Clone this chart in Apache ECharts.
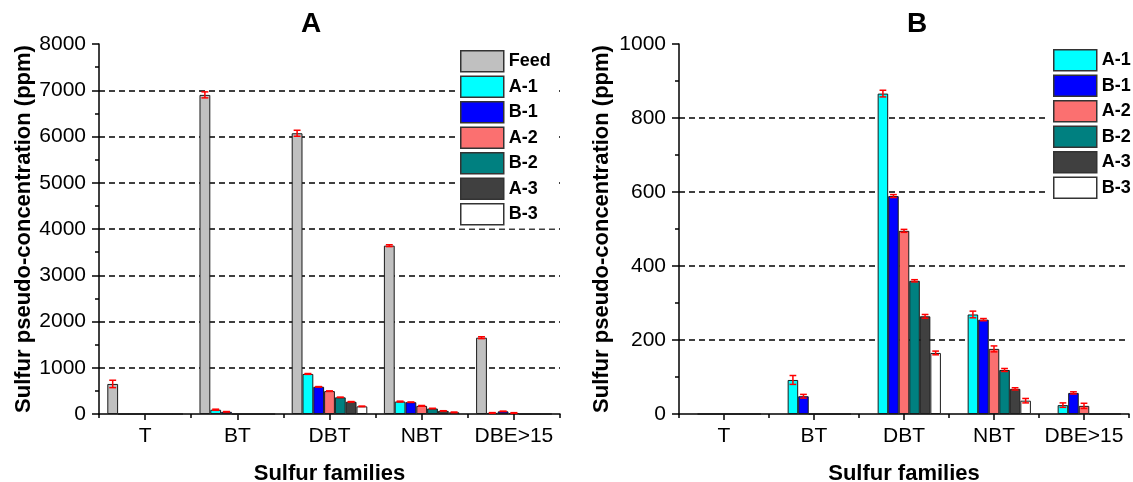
<!DOCTYPE html>
<html>
<head>
<meta charset="utf-8">
<script src="https://cdn.jsdelivr.net/npm/echarts@6/dist/echarts.min.js"></script>
<style>
  html, body { margin: 0; padding: 0; background: #fff; }
  #chart { width: 1133px; height: 482px; }
</style>
</head>
<body>
<div id="chart"></div>
<script>
// Sulfur families on the x axis
const families = ['T', 'BT', 'DBT', 'NBT', 'DBE>15'];

// Pseudo-concentrations (ppm) and their standard deviations
const feed    = [650, 6900, 6070, 3640, 1650];
const feedErr = [80, 65, 65, 20, 20];
const a1      = [0, 92, 866, 269, 24];
const a1Err   = [0, 12, 9, 9, 6];
const b1      = [0, 48, 589, 255, 57];
const b1Err   = [0, 5, 4, 3, 3];
const a2      = [0, 0, 495, 176, 22];
const a2Err   = [0, 0, 4, 8, 7];
const b2      = [0, 0, 360, 119, 0];
const b2Err   = [0, 0, 3, 4, 0];
const a3      = [0, 0, 264, 68, 0];
const a3Err   = [0, 0, 5, 3, 0];
const b3      = [0, 0, 165, 36, 0];
const b3Err   = [0, 0, 5, 6, 0];

// Axis ticks
const yTicksA = [0, 1000, 2000, 3000, 4000, 5000, 6000, 7000, 8000];
const yTicksB = [0, 200, 400, 600, 800, 1000];

const samples = [
  { name: 'Feed', values: feed, err: feedErr, color: '#c0c0c0' },
  { name: 'A-1',  values: a1,   err: a1Err,   color: '#00ffff' },
  { name: 'B-1',  values: b1,   err: b1Err,   color: '#0000ff' },
  { name: 'A-2',  values: a2,   err: a2Err,   color: '#fb7070' },
  { name: 'B-2',  values: b2,   err: b2Err,   color: '#008080' },
  { name: 'A-3',  values: a3,   err: a3Err,   color: '#404040' },
  { name: 'B-3',  values: b3,   err: b3Err,   color: '#ffffff' }
];

const FONT = 'Liberation Sans, Arial, sans-serif';
const GAP = 0.18;
const slots = samples.length;

const chart = echarts.init(document.getElementById('chart'), null, { renderer: 'canvas' });

function valueAxis(gridIndex, ticks, nameGap) {
  return {
    type: 'value', gridIndex,
    min: ticks[0], max: ticks[ticks.length - 1], interval: ticks[1] - ticks[0],
    name: 'Sulfur pseudo-concentration (ppm)',
    nameLocation: 'middle', nameGap,
    nameTextStyle: { fontFamily: FONT, fontWeight: 'bold', fontSize: 22, color: '#000' },
    axisLine: { show: true, lineStyle: { color: '#000', width: 1.5 } },
    axisTick: { show: true, length: 7, lineStyle: { color: '#000', width: 1.5 } },
    minorTick: { show: true, splitNumber: 2, length: 4, lineStyle: { color: '#000', width: 1.5 } },
    axisLabel: { fontFamily: FONT, fontSize: 21, color: '#000', margin: 13,
                 formatter: function (v) { return String(v); } },
    splitLine: { show: true, showMinLine: false, showMaxLine: false,
                 lineStyle: { color: '#000', type: [6, 4], width: 1.5 } }
  };
}

function categoryAxis(gridIndex) {
  return {
    type: 'category', gridIndex, data: families,
    name: 'Sulfur families', nameLocation: 'middle', nameGap: 49,
    nameTextStyle: { fontFamily: FONT, fontWeight: 'bold', fontSize: 22, color: '#000' },
    axisLine: { show: true, lineStyle: { color: '#000', width: 1.5 } },
    axisTick: { show: true, alignWithLabel: true, interval: 0, length: 6, lineStyle: { color: '#000', width: 1.5 } },
    axisLabel: { fontFamily: FONT, fontSize: 21, color: '#000', margin: 12, interval: 0, hideOverlap: false },
    splitLine: { show: false }
  };
}

// Boundary ticks between families, drawn by an overlaid axis without labels
function boundaryAxis(gridIndex) {
  return {
    type: 'category', gridIndex, data: families,
    axisLine: { show: false },
    axisTick: { show: true, alignWithLabel: false, interval: 0, length: 4, lineStyle: { color: '#000', width: 1.5 } },
    axisLabel: { show: false },
    splitLine: { show: false }
  };
}

function hiddenValueAxis(gridIndex, ticks) {
  return { type: 'value', gridIndex, min: ticks[0], max: ticks[ticks.length - 1],
           show: false, splitLine: { show: false } };
}

function errorRenderer(slot) {
  return function (params, api) {
    const v = api.value(1), e = api.value(2);
    if (!v || !e) return;
    const band = api.size([1, 0])[0];
    const groupW = band * (1 - GAP);
    const bw = groupW / slots;
    const cx = api.coord([api.value(0), 0])[0] - groupW / 2 + bw * (slot + 0.5);
    const yHi = api.coord([api.value(0), v + e])[1];
    const yLo = api.coord([api.value(0), v - e])[1];
    const half = bw * 0.32;
    const style = { stroke: '#ff0000', lineWidth: 1.5 };
    return {
      type: 'group',
      children: [
        { type: 'line', shape: { x1: cx, y1: yHi, x2: cx, y2: yLo }, style },
        { type: 'line', shape: { x1: cx - half, y1: yHi, x2: cx + half, y2: yHi }, style },
        { type: 'line', shape: { x1: cx - half, y1: yLo, x2: cx + half, y2: yLo }, style }
      ]
    };
  };
}

const series = [];
[0, 1].forEach(function (panel) {
  samples.forEach(function (s, slot) {
    const skip = panel === 1 && s.name === 'Feed';
    series.push({
      type: 'bar', name: s.name,
      xAxisIndex: panel, yAxisIndex: panel,
      data: skip ? families.map(function () { return '-'; }) : s.values,
      barGap: '0%', barCategoryGap: (GAP * 100) + '%',
      itemStyle: { color: s.color, borderColor: '#1a1a1a', borderWidth: 1 },
      emphasis: { disabled: true },
      z: 2
    });
    if (!skip) {
      series.push({
        type: 'custom', name: s.name + ' error',
        xAxisIndex: panel, yAxisIndex: panel,
        renderItem: errorRenderer(slot),
        data: families.map(function (f, i) { return [i, s.values[i], s.err[i]]; }),
        z: 5, silent: true
      });
    }
  });
});

const legendBase = {
  orient: 'vertical', itemWidth: 43, itemHeight: 21, itemGap: 3,
  padding: [3, 5, 3, 5], backgroundColor: '#fff',
  icon: 'rect',
  itemStyle: { borderColor: '#333', borderWidth: 1.5 },
  textStyle: { fontFamily: FONT, fontWeight: 'bold', fontSize: 18, color: '#000' },
  selectedMode: false, z: 10
};

const gridBox = function (left, right) {
  return { left, right, top: 44, bottom: 68, outerBoundsMode: 'none', containLabel: false };
};

chart.setOption({
  animation: false,
  backgroundColor: '#fff',
  grid: [gridBox(99, 573), gridBox(679, 4), gridBox(99, 573), gridBox(679, 4)],
  xAxis: [categoryAxis(0), categoryAxis(1), boundaryAxis(2), boundaryAxis(3)],
  yAxis: [valueAxis(0, yTicksA, 64), valueAxis(1, yTicksB, 66),
          hiddenValueAxis(2, yTicksA), hiddenValueAxis(3, yTicksB)],
  legend: [
    Object.assign({}, legendBase, { left: 455, top: 47, data: samples.map(function (s) { return s.name; }) }),
    Object.assign({}, legendBase, { left: 1048, top: 46, data: samples.slice(1).map(function (s) { return s.name; }) })
  ],
  graphic: [
    { type: 'text', x: 311, y: 24, style: { text: 'A', fontFamily: FONT, fontWeight: 'bold', fontSize: 28,
      fill: '#000', textAlign: 'center', textVerticalAlign: 'middle' } },
    { type: 'text', x: 917, y: 24, style: { text: 'B', fontFamily: FONT, fontWeight: 'bold', fontSize: 28,
      fill: '#000', textAlign: 'center', textVerticalAlign: 'middle' } }
  ],
  series
});
</script>
</body>
</html>
